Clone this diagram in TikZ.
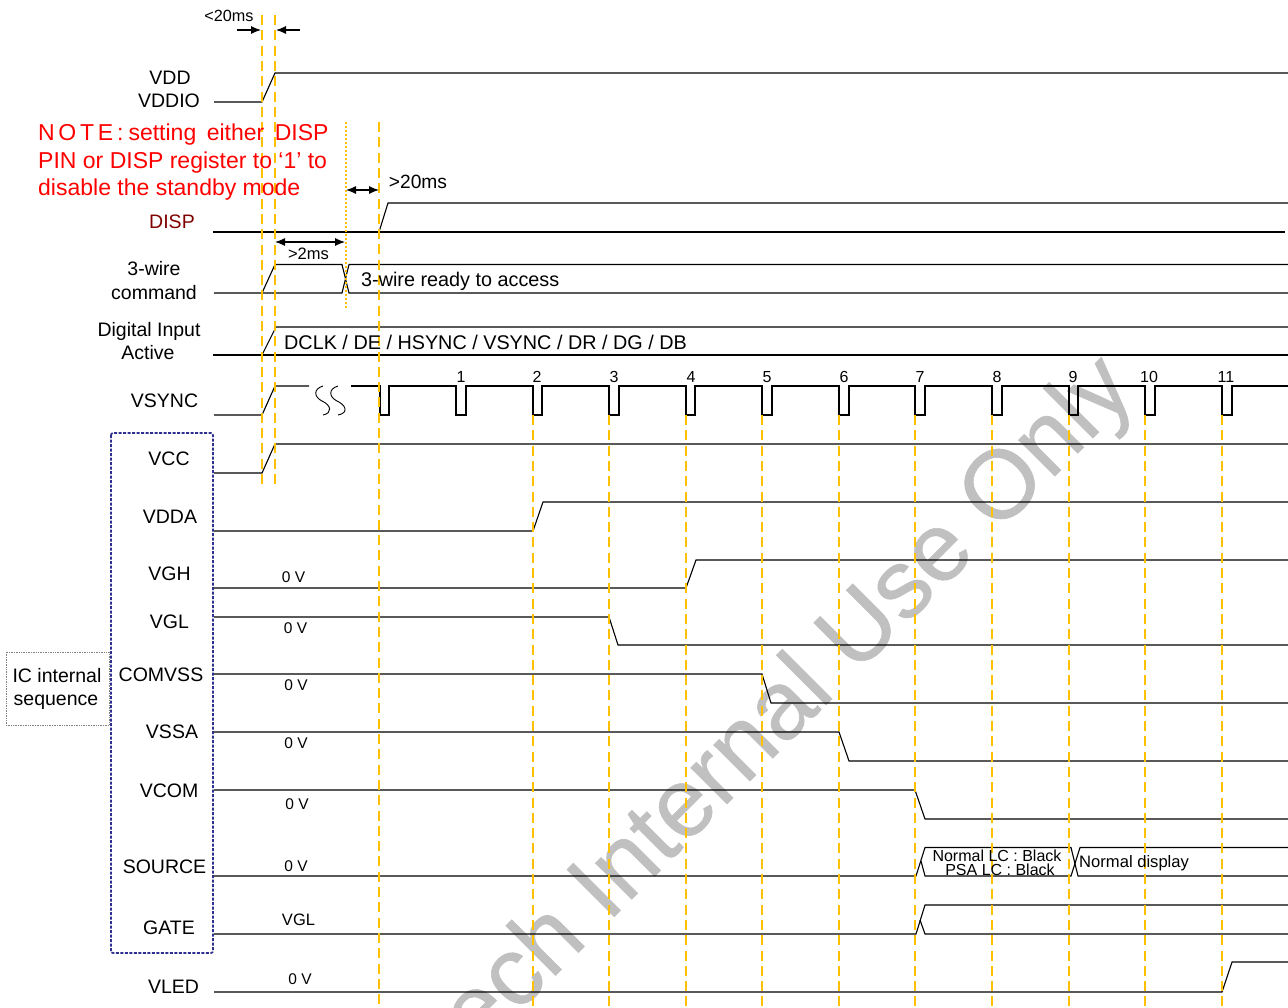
\documentclass[tikz,border=0pt]{standalone}
\usepackage{fontspec}
\setmainfont{Liberation Sans}
\newfontfamily\wmfont[FakeBold=0.6]{Liberation Sans}
\usetikzlibrary{arrows.meta}
\definecolor{guidecol}{HTML}{FFC000}
\definecolor{markgray}{HTML}{C0C0C0}
\definecolor{boxblue}{HTML}{2F2F8F}
\definecolor{dispred}{HTML}{800000}
\tikzset{
  x=1pt,y=-1pt,
  sig/.style={draw=black,line width=1.1pt,line join=miter},
  guide/.style={draw=guidecol,line width=2.3pt,dash pattern=on 10pt off 5.3pt},
  guidedot/.style={draw=guidecol,line width=1.7pt,dash pattern=on 2pt off 2pt},
  lab/.style={inner sep=0pt,font=\fontsize{19.5}{22}\selectfont},
  small/.style={inner sep=0pt,font=\fontsize{15.5}{18}\selectfont},
  num/.style={inner sep=0pt,font=\fontsize{16}{18}\selectfont},
  band/.style={inner sep=0pt,anchor=west,font=\fontsize{19.8}{22}\selectfont},
  note/.style={inner sep=0pt,anchor=base west,text=red,font=\fontsize{23}{26}\selectfont},
  dim/.style={draw=black,line width=1.1pt,-{Latex[length=10pt,width=8pt]}},
  dimboth/.style={draw=black,line width=1.1pt,{Latex[length=10pt,width=8pt]}-{Latex[length=10pt,width=8pt]}},
  lcfont/.style={inner sep=0pt,font=\fontsize{16}{18}\selectfont},
}
\begin{document}
\begin{tikzpicture}
\useasboundingbox (0,0) rectangle (1288,1007);
\clip (0,0) rectangle (1288,1007);
% watermark
\node[rotate=45,anchor=base east,inner sep=0pt,text=markgray,font=\wmfont\fontsize{97}{100}\selectfont] (wm) at (1138,393) {tech Internal Use Only};
% waveforms
\draw[sig] (214,102)--(262,102)--(275,73)--(1288,73);
\draw[sig] (213,232)--(1285,232);
\draw[sig] (379,232)--(388,203)--(1288,203);
\draw[sig] (214,293)--(262,293)--(275,264.5)--(342,264.5)--(349,293)--(1288,293);
\draw[sig] (262,293)--(342,293)--(349,264.5)--(1288,264.5);
\draw[sig] (213,355)--(1288,355);
\draw[sig] (262,355)--(276,327)--(1288,327);
\draw[sig] (214,415)--(262,415)--(275,386)--(309,386);
\draw[sig] (351,386)--(380,386)--(380,415)--(389,415)--(389,386)
  --(456,386)--(456,415)--(466,415)--(466,386)
  --(533,386)--(533,415)--(542,415)--(542,386)
  --(609,386)--(609,415)--(619,415)--(619,386)
  --(686,386)--(686,415)--(695,415)--(695,386)
  --(762,386)--(762,415)--(772,415)--(772,386)
  --(839,386)--(839,415)--(849,415)--(849,386)
  --(915,386)--(915,415)--(925,415)--(925,386)
  --(992,386)--(992,415)--(1002,415)--(1002,386)
  --(1069,386)--(1069,415)--(1078,415)--(1078,386)
  --(1145,386)--(1145,415)--(1155,415)--(1155,386)
  --(1222,386)--(1222,415)--(1232,415)--(1232,386)--(1288,386);
\draw[draw=black,line width=0.9pt] (323,386) .. controls (313,389) and (314,397) .. (322,401) .. controls (331,405) and (333,413) .. (323,415);
\draw[draw=black,line width=0.9pt] (338,386) .. controls (328,389) and (329,397) .. (337,401) .. controls (346,405) and (349,413) .. (338,415);
\draw[sig] (214,473)--(262,473)--(275,444)--(1288,444);
\draw[sig] (214,531)--(533,531)--(543,502)--(1288,502);
\draw[sig] (214,588)--(686,588)--(696,560)--(1288,560);
\draw[sig] (214,617)--(609,617)--(618,645)--(1288,645);
\draw[sig] (214,674)--(762,674)--(771,703)--(1288,703);
\draw[sig] (214,732)--(839,732)--(849,761)--(1288,761);
\draw[sig] (214,790)--(915,790)--(925,819)--(1288,819);
\draw[sig] (214,876)--(916,876)--(925,847.5)--(1071,847.5)--(1078,876)--(1288,876);
\draw[sig] (921,861)--(925,876)--(1071,876)--(1080,847.5)--(1288,847.5);
\draw[sig] (214,934)--(916,934)--(925,905)--(1288,905);
\draw[sig] (920,920)--(925,934)--(1288,934);
\draw[sig] (214,992)--(1222,992)--(1232,962)--(1288,962);
% boxes
\draw[draw=boxblue,line width=1.7pt,dash pattern=on 3pt off 1.5pt,rounded corners=2pt] (111,433) rectangle (213,953);
\node[draw=gray,densely dotted,line width=0.7pt,minimum width=103pt,minimum height=73pt,inner sep=0pt] (icbox) at (57.5,688.5) {};
% guides
\foreach \x in {262,275}{\draw[guide] (\x,15)--(\x,486);}
\draw[guidedot] (346,122)--(346,308);
\draw[guide] (379,122)--(379,1007);
\foreach \x in {533,609,686,762,839,915,992,1069,1145,1222}{\draw[guide] (\x,415)--(\x,1007);}
% dimension arrows
\coordinate (a1s) at (237,30); \coordinate (a1e) at (261,30);
\coordinate (a2s) at (300,30); \coordinate (a2e) at (276,30);
\coordinate (b1) at (346,190); \coordinate (b2) at (379,190);
\coordinate (c1) at (275,242); \coordinate (c2) at (345,242);
\draw[dim] (a1s)--(a1e);
\draw[dim] (a2s)--(a2e);
\draw[dimboth] (b1)--(b2);
\draw[dimboth] (c1)--(c2);
\node[small,font=\fontsize{16.2}{18}\selectfont] (lt20) at (229,16) {<20ms};
\node[lab,font=\fontsize{19.2}{20}\selectfont] (gt20) at (418,182) {>20ms};
\node[small,font=\fontsize{16.5}{18}\selectfont] (gt2) at (308.5,253.5) {>2ms};
% signal labels
\node[lab] (l1) at (170,78) {VDD};
\node[lab] (l2) at (169,101) {VDDIO};
\node[note] (n1) at (38,140) {N\hspace{3.7pt}O\hspace{3.7pt}T\hspace{3.7pt}E\hspace{4pt}:\hspace{5pt}setting\hspace{10.5pt}either\hspace{10.5pt}DISP};
\node[note] (n2) at (38,168) {PIN or DISP register to ‘1’ to};
\node[note] (n3) at (38,195) {disable the standby mode};
\node[lab,text=dispred] (l3) at (172,222) {DISP};
\node[lab] (l4) at (154,269) {3-wire};
\node[lab] (l5) at (154,293) {command};
\node[lab] (l6) at (149,331) {Digital Input};
\node[lab] (l7) at (148,353) {Active};
\node[lab] (l8) at (164.5,401) {VSYNC};
\node[lab] (l9) at (169,459) {VCC};
\node[lab] (l10) at (170,517) {VDDA};
\node[lab] (l11) at (169.5,574) {VGH};
\node[lab] (l12) at (169.5,622) {VGL};
\node[lab] (l13) at (161,675) {COMVSS};
\node[lab] (l14) at (172,732) {VSSA};
\node[lab] (l15) at (169,791) {VCOM};
\node[lab] (l16) at (164.5,867) {SOURCE};
\node[lab] (l17) at (169,928) {GATE};
\node[lab] (l18) at (173.5,987) {VLED};
\node[lab] (ic1) at (57,676) {IC internal};
\node[lab] (ic2) at (56,702) {sequence};
% level labels
\node[small] (v1) at (293.5,577) {0 V};
\node[small] (v2) at (295.5,628) {0 V};
\node[small] (v3) at (296,685) {0 V};
\node[small] (v4) at (296,743) {0 V};
\node[small] (v5) at (297,804) {0 V};
\node[small] (v6) at (296,866) {0 V};
\node[small,font=\fontsize{16.5}{18}\selectfont] (v7) at (298.5,920) {VGL};
\node[small] (v8) at (300,979) {0 V};
% pulse numbers
\foreach \n/\x in {1/461,2/537,3/614,4/691,5/767,6/844,7/920,8/997,9/1073,10/1149,11/1226}{
  \node[num] (p\n) at (\x,377) {\n};}
% band text
\node[band] (t1) at (361,281) {3-wire ready to access};
\node[band] (t2) at (284,342) {DCLK / DE / HSYNC / VSYNC / DR / DG / DB};
\node[lcfont] (t3) at (997,856) {Normal LC : Black};
\node[lcfont] (t4) at (1000,870) {PSA LC : Black};
\node[lcfont,anchor=west,font=\fontsize{16.6}{18}\selectfont] (t5) at (1079,863) {Normal display};
\end{tikzpicture}
\end{document}
